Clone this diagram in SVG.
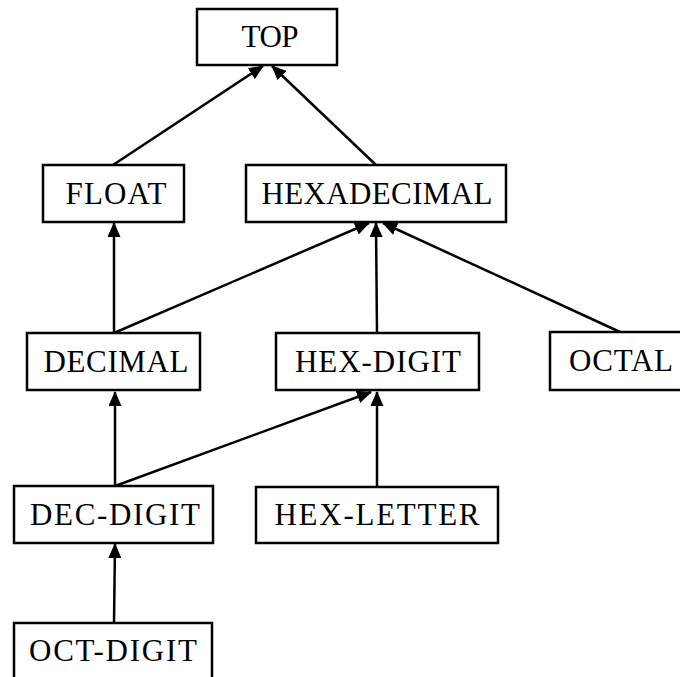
<svg xmlns="http://www.w3.org/2000/svg" width="680" height="677" viewBox="0 0 680 677">
<style>
.box{fill:#fff;stroke:#000;stroke-width:2.5}
.lbl{font-family:"Liberation Serif","Times New Roman",serif;font-size:31px;fill:#000;text-anchor:middle}
.edge{stroke:#000;stroke-width:2.5;fill:none;marker-end:url(#ah)}
</style>
<defs>
<marker id="ah" markerUnits="userSpaceOnUse" markerWidth="15" markerHeight="13" refX="14" refY="6.5" orient="auto" viewBox="0 0 15 13">
<path d="M0,0 L15,6.5 L0,13 z" fill="#000"/>
</marker>
</defs>
<rect width="680" height="677" fill="#fff"/>
<g id="connectors">
<line class="edge" x1="113" y1="165" x2="263" y2="66"/>
<line class="edge" x1="376" y1="165" x2="272" y2="66"/>
<line class="edge" x1="114" y1="333" x2="114" y2="223"/>
<line class="edge" x1="114" y1="333" x2="369" y2="223"/>
<line class="edge" x1="377" y1="333" x2="376" y2="223"/>
<line class="edge" x1="620" y1="332" x2="383" y2="223"/>
<line class="edge" x1="115" y1="486" x2="115" y2="392"/>
<line class="edge" x1="115" y1="486" x2="371" y2="392"/>
<line class="edge" x1="377" y1="487" x2="377" y2="392"/>
<line class="edge" x1="114" y1="623" x2="115" y2="544"/>
</g>
<g id="TOP"><rect class="box" x="197" y="9" width="140" height="56"/><text class="lbl" x="270" y="47" textLength="57">TOP</text></g>
<g id="FLOAT"><rect class="box" x="43" y="165" width="141" height="57"/><text class="lbl" x="116" y="204" textLength="101">FLOAT</text></g>
<g id="HEXADECIMAL"><rect class="box" x="246" y="165" width="260" height="57"/><text class="lbl" x="377" y="204" textLength="231">HEXADECIMAL</text></g>
<g id="DECIMAL"><rect class="box" x="27" y="333" width="173" height="57"/><text class="lbl" x="116" y="372" textLength="145">DECIMAL</text></g>
<g id="HEX-DIGIT"><rect class="box" x="276" y="333" width="203" height="57"/><text class="lbl" x="378" y="372" textLength="166">HEX-DIGIT</text></g>
<g id="OCTAL"><rect class="box" x="550" y="332" width="142" height="58"/><text class="lbl" x="621" y="371" textLength="104">OCTAL</text></g>
<g id="DEC-DIGIT"><rect class="box" x="14" y="486" width="199" height="57"/><text class="lbl" x="115" y="525" textLength="170">DEC-DIGIT</text></g>
<g id="HEX-LETTER"><rect class="box" x="256" y="487" width="242" height="56"/><text class="lbl" x="377" y="525" textLength="205">HEX-LETTER</text></g>
<g id="OCT-DIGIT"><rect class="box" x="14" y="623" width="198" height="57"/><text class="lbl" x="113" y="661" textLength="168">OCT-DIGIT</text></g>
</svg>
